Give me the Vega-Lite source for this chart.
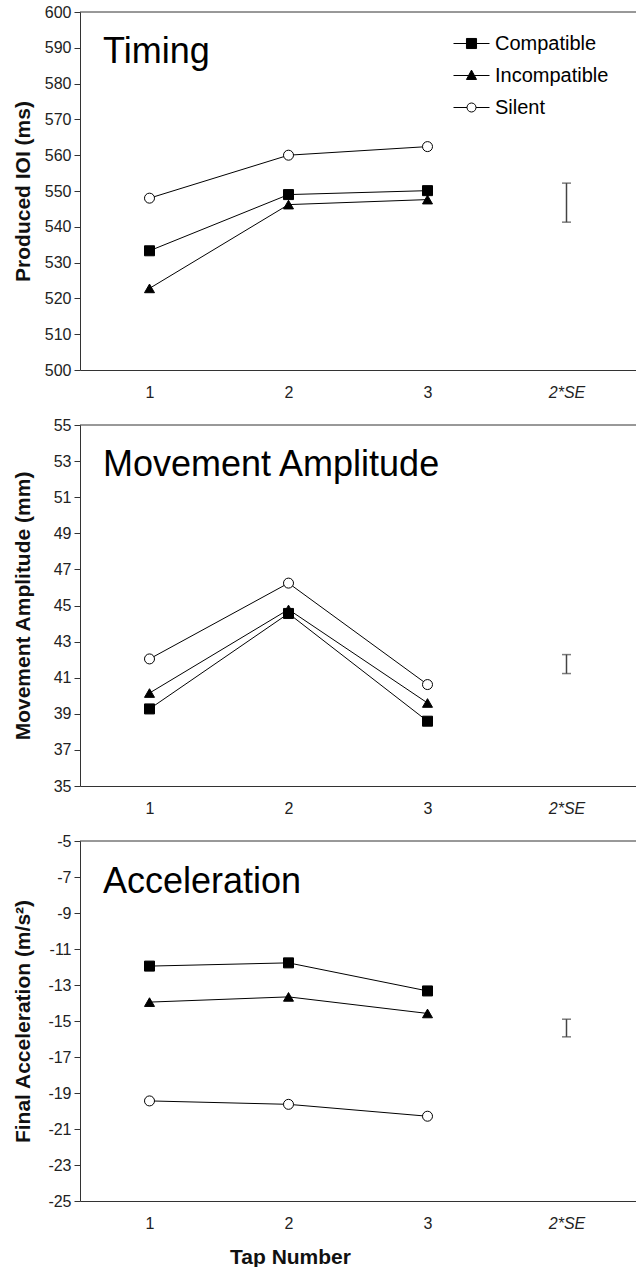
{
  "$schema": "https://vega.github.io/schema/vega-lite/v6.json",
  "padding": {"top": 4, "left": 12, "right": 0, "bottom": 0},
  "background": "white",
  "bounds": "flush",
  "spacing": 55,
  "config": {
    "font": "Liberation Sans",
    "view": {"stroke": null},
    "axis": {"labelFont": "Liberation Sans", "labelFontSize": 16, "labelColor": "#222", "labelOverlap": false, "titleFont": "Liberation Sans", "titleFontSize": 21, "titleFontWeight": "bold", "titleColor": "#111", "domainColor": "#333", "tickColor": "#333", "grid": false},
    "legend": {"labelFont": "Liberation Sans"}
  },
  "datasets": {
    "timing": [
      {"tap": "1", "condition": "Compatible", "value": 533.3},
      {"tap": "2", "condition": "Compatible", "value": 549.0},
      {"tap": "3", "condition": "Compatible", "value": 550.1},
      {"tap": "1", "condition": "Incompatible", "value": 522.8},
      {"tap": "2", "condition": "Incompatible", "value": 546.2},
      {"tap": "3", "condition": "Incompatible", "value": 547.6},
      {"tap": "1", "condition": "Silent", "value": 548.0},
      {"tap": "2", "condition": "Silent", "value": 560.0},
      {"tap": "3", "condition": "Silent", "value": 562.4}
    ],
    "amplitude": [
      {"tap": "1", "condition": "Compatible", "value": 39.27},
      {"tap": "2", "condition": "Compatible", "value": 44.56},
      {"tap": "3", "condition": "Compatible", "value": 38.59},
      {"tap": "1", "condition": "Incompatible", "value": 40.15},
      {"tap": "2", "condition": "Incompatible", "value": 44.78},
      {"tap": "3", "condition": "Incompatible", "value": 39.6},
      {"tap": "1", "condition": "Silent", "value": 42.04},
      {"tap": "2", "condition": "Silent", "value": 46.24},
      {"tap": "3", "condition": "Silent", "value": 40.62}
    ],
    "accel": [
      {"tap": "1", "condition": "Compatible", "value": -11.95},
      {"tap": "2", "condition": "Compatible", "value": -11.77},
      {"tap": "3", "condition": "Compatible", "value": -13.33},
      {"tap": "1", "condition": "Incompatible", "value": -13.95},
      {"tap": "2", "condition": "Incompatible", "value": -13.66},
      {"tap": "3", "condition": "Incompatible", "value": -14.58},
      {"tap": "1", "condition": "Silent", "value": -19.44},
      {"tap": "2", "condition": "Silent", "value": -19.63},
      {"tap": "3", "condition": "Silent", "value": -20.29}
    ],
    "se_timing": [{"tap": "2*SE", "lo": 541.3, "hi": 552.2}],
    "se_amplitude": [{"tap": "2*SE", "lo": 41.23, "hi": 42.28}],
    "se_accel": [{"tap": "2*SE", "lo": -15.88, "hi": -14.9}],
    "title_timing": [{"label": "Timing"}],
    "title_amplitude": [{"label": "Movement Amplitude"}],
    "title_accel": [{"label": "Acceleration"}]
  },
  "vconcat": [
    {
      "width": 556,
      "height": 358,
      "resolve": {"scale": {"shape": "independent", "fill": "independent", "stroke": "independent"}, "legend": {"shape": "independent", "fill": "independent", "stroke": "independent"}},
      "layer": [
        {
          "data": {"name": "title_timing"},
          "mark": {"type": "rule", "color": "#333", "strokeWidth": 1},
          "encoding": {"y": {"datum": 600, "type": "quantitative", "scale": {"domain": [500, 600], "nice": false, "zero": false}, "axis": {"title": "Produced IOI (ms)", "values": [500, 510, 520, 530, 540, 550, 560, 570, 580, 590, 600], "labelOverlap": false, "tickSize": 6, "labelPadding": 3, "titleX": -47}}}
        },
        {
          "data": {"name": "title_timing"},
          "mark": {"type": "text", "align": "left", "baseline": "alphabetic", "fontSize": 36, "font": "Liberation Sans", "dx": -46.5, "color": "black"},
          "encoding": {
            "x": {"datum": "1", "type": "ordinal", "scale": {"type": "point", "domain": ["1", "2", "3", "2*SE"], "padding": 0.5}, "axis": {"title": null, "labelPadding": 14, "ticks": false, "labelAngle": 0, "labelFontStyle": {"expr": "datum.value === '2*SE' ? 'italic' : 'normal'"}}},
            "y": {"datum": 585.7, "type": "quantitative", "axis": {"title": "Produced IOI (ms)", "values": [500, 510, 520, 530, 540, 550, 560, 570, 580, 590, 600], "labelOverlap": false, "tickSize": 6, "labelPadding": 3, "titleX": -47}},
            "text": {"field": "label"}
          }
        },
        {
          "data": {"name": "se_timing"},
          "mark": {"type": "rule", "color": "#444", "strokeWidth": 1.5},
          "encoding": {
            "x": {"field": "tap", "type": "ordinal"},
            "y": {"field": "lo", "type": "quantitative", "axis": {"title": "Produced IOI (ms)", "values": [500, 510, 520, 530, 540, 550, 560, 570, 580, 590, 600], "labelOverlap": false, "tickSize": 6, "labelPadding": 3, "titleX": -47}},
            "y2": {"field": "hi"}
          }
        },
        {
          "data": {"name": "se_timing"},
          "mark": {"type": "tick", "color": "#444", "size": 9, "thickness": 1.5},
          "encoding": {"x": {"field": "tap", "type": "ordinal"}, "y": {"field": "lo", "type": "quantitative", "axis": {"title": "Produced IOI (ms)", "values": [500, 510, 520, 530, 540, 550, 560, 570, 580, 590, 600], "labelOverlap": false, "tickSize": 6, "labelPadding": 3, "titleX": -47}}}
        },
        {
          "data": {"name": "se_timing"},
          "mark": {"type": "tick", "color": "#444", "size": 9, "thickness": 1.5},
          "encoding": {"x": {"field": "tap", "type": "ordinal"}, "y": {"field": "hi", "type": "quantitative", "axis": {"title": "Produced IOI (ms)", "values": [500, 510, 520, 530, 540, 550, 560, 570, 580, 590, 600], "labelOverlap": false, "tickSize": 6, "labelPadding": 3, "titleX": -47}}}
        },
        {
          "data": {"name": "timing"},
          "mark": {"type": "line", "color": "black", "strokeWidth": 1},
          "encoding": {
            "x": {"field": "tap", "type": "ordinal"},
            "y": {"field": "value", "type": "quantitative", "axis": {"title": "Produced IOI (ms)", "values": [500, 510, 520, 530, 540, 550, 560, 570, 580, 590, 600], "labelOverlap": false, "tickSize": 6, "labelPadding": 3, "titleX": -47}},
            "detail": {"field": "condition"}
          }
        },
        {
          "data": {"name": "timing"},
          "mark": {"type": "point", "filled": true, "stroke": "black", "strokeWidth": 1, "opacity": 1, "size": 100},
          "encoding": {
            "x": {"field": "tap", "type": "ordinal"},
            "y": {"field": "value", "type": "quantitative", "axis": {"title": "Produced IOI (ms)", "values": [500, 510, 520, 530, 540, 550, 560, 570, 580, 590, 600], "labelOverlap": false, "tickSize": 6, "labelPadding": 3, "titleX": -47}},
            "shape": {"field": "condition", "scale": {"domain": ["Compatible", "Incompatible", "Silent"], "range": ["square", "triangle-up", "circle"]}, "legend": null},
            "fill": {"field": "condition", "scale": {"domain": ["Compatible", "Incompatible", "Silent"], "range": ["black", "black", "white"]}, "legend": null}
          }
        },
        {
          "data": {"name": "timing"},
          "transform": [{"filter": "false"}],
          "mark": {"type": "point", "filled": true, "strokeWidth": 1, "opacity": 1},
          "encoding": {
            "x": {"field": "tap", "type": "ordinal"},
            "y": {"field": "value", "type": "quantitative", "axis": {"title": "Produced IOI (ms)", "values": [500, 510, 520, 530, 540, 550, 560, 570, 580, 590, 600], "labelOverlap": false, "tickSize": 6, "labelPadding": 3, "titleX": -47}},
            "shape": {"field": "condition", "scale": {"domain": ["Compatible", "Incompatible", "Silent"], "range": ["M-1,0H1M-0.28,-0.28H0.28V0.28H-0.28Z", "M-1,0H1M0,-0.3L0.28,0.22H-0.28Z", "M-1,0H-0.25M0.25,0H1M-0.25,0A0.25,0.25 0 1,0 0.25,0A0.25,0.25 0 1,0 -0.25,0Z"]},
              "legend": {"title": null, "orient": "none", "legendX": 373, "legendY": 13, "labelFontSize": 20, "labelColor": "black", "symbolSize": 1296, "symbolStrokeWidth": 1, "labelOffset": 5, "rowPadding": 3, "padding": 0}},
            "fill": {"field": "condition", "scale": {"domain": ["Compatible", "Incompatible", "Silent"], "range": ["black", "black", "white"]},
              "legend": {"title": null, "orient": "none", "legendX": 373, "legendY": 13, "labelFontSize": 20, "labelColor": "black", "symbolSize": 1296, "symbolStrokeWidth": 1, "labelOffset": 5, "rowPadding": 3, "padding": 0}},
            "stroke": {"field": "condition", "scale": {"domain": ["Compatible", "Incompatible", "Silent"], "range": ["black", "black", "black"]},
              "legend": {"title": null, "orient": "none", "legendX": 373, "legendY": 13, "labelFontSize": 20, "labelColor": "black", "symbolSize": 1296, "symbolStrokeWidth": 1, "labelOffset": 5, "rowPadding": 3, "padding": 0}}
          }
        }
      ]
    },
    {
      "width": 556,
      "height": 361,
      "layer": [
        {
          "data": {"name": "title_amplitude"},
          "mark": {"type": "rule", "color": "#333", "strokeWidth": 1},
          "encoding": {"y": {"datum": 55, "type": "quantitative", "scale": {"domain": [35, 55], "nice": false, "zero": false}, "axis": {"title": "Movement Amplitude (mm)", "values": [35, 37, 39, 41, 43, 45, 47, 49, 51, 53, 55], "labelOverlap": false, "tickSize": 6, "labelPadding": 3, "titleX": -47}}}
        },
        {
          "data": {"name": "title_amplitude"},
          "mark": {"type": "text", "align": "left", "baseline": "alphabetic", "fontSize": 36, "font": "Liberation Sans", "dx": -46.5, "color": "black"},
          "encoding": {
            "x": {"datum": "1", "type": "ordinal", "scale": {"type": "point", "domain": ["1", "2", "3", "2*SE"], "padding": 0.5}, "axis": {"title": null, "labelPadding": 14, "ticks": false, "labelAngle": 0, "labelFontStyle": {"expr": "datum.value === '2*SE' ? 'italic' : 'normal'"}}},
            "y": {"datum": 52.19, "type": "quantitative", "axis": {"title": "Movement Amplitude (mm)", "values": [35, 37, 39, 41, 43, 45, 47, 49, 51, 53, 55], "labelOverlap": false, "tickSize": 6, "labelPadding": 3, "titleX": -47}},
            "text": {"field": "label"}
          }
        },
        {
          "data": {"name": "se_amplitude"},
          "mark": {"type": "rule", "color": "#444", "strokeWidth": 1.5},
          "encoding": {"x": {"field": "tap", "type": "ordinal"}, "y": {"field": "lo", "type": "quantitative", "axis": {"title": "Movement Amplitude (mm)", "values": [35, 37, 39, 41, 43, 45, 47, 49, 51, 53, 55], "labelOverlap": false, "tickSize": 6, "labelPadding": 3, "titleX": -47}}, "y2": {"field": "hi"}}
        },
        {
          "data": {"name": "se_amplitude"},
          "mark": {"type": "tick", "color": "#444", "size": 9, "thickness": 1.5},
          "encoding": {"x": {"field": "tap", "type": "ordinal"}, "y": {"field": "lo", "type": "quantitative", "axis": {"title": "Movement Amplitude (mm)", "values": [35, 37, 39, 41, 43, 45, 47, 49, 51, 53, 55], "labelOverlap": false, "tickSize": 6, "labelPadding": 3, "titleX": -47}}}
        },
        {
          "data": {"name": "se_amplitude"},
          "mark": {"type": "tick", "color": "#444", "size": 9, "thickness": 1.5},
          "encoding": {"x": {"field": "tap", "type": "ordinal"}, "y": {"field": "hi", "type": "quantitative", "axis": {"title": "Movement Amplitude (mm)", "values": [35, 37, 39, 41, 43, 45, 47, 49, 51, 53, 55], "labelOverlap": false, "tickSize": 6, "labelPadding": 3, "titleX": -47}}}
        },
        {
          "data": {"name": "amplitude"},
          "mark": {"type": "line", "color": "black", "strokeWidth": 1},
          "encoding": {"x": {"field": "tap", "type": "ordinal"}, "y": {"field": "value", "type": "quantitative", "axis": {"title": "Movement Amplitude (mm)", "values": [35, 37, 39, 41, 43, 45, 47, 49, 51, 53, 55], "labelOverlap": false, "tickSize": 6, "labelPadding": 3, "titleX": -47}}, "detail": {"field": "condition"}}
        },
        {
          "data": {"name": "amplitude"},
          "mark": {"type": "point", "filled": true, "stroke": "black", "strokeWidth": 1, "opacity": 1, "size": 100},
          "encoding": {
            "x": {"field": "tap", "type": "ordinal"},
            "y": {"field": "value", "type": "quantitative", "axis": {"title": "Movement Amplitude (mm)", "values": [35, 37, 39, 41, 43, 45, 47, 49, 51, 53, 55], "labelOverlap": false, "tickSize": 6, "labelPadding": 3, "titleX": -47}},
            "shape": {"field": "condition", "scale": {"domain": ["Compatible", "Incompatible", "Silent"], "range": ["square", "triangle-up", "circle"]}, "legend": null},
            "fill": {"field": "condition", "scale": {"domain": ["Compatible", "Incompatible", "Silent"], "range": ["black", "black", "white"]}, "legend": null}
          }
        }
      ]
    },
    {
      "width": 556,
      "height": 360,
      "layer": [
        {
          "data": {"name": "title_accel"},
          "mark": {"type": "rule", "color": "#333", "strokeWidth": 1},
          "encoding": {"y": {"datum": -5, "type": "quantitative", "scale": {"domain": [-25, -5], "nice": false, "zero": false}, "axis": {"title": "Final Acceleration (m/s²)", "values": [-25, -23, -21, -19, -17, -15, -13, -11, -9, -7, -5], "labelOverlap": false, "format": "d", "labelExpr": "replace(datum.label, '−', '-')", "tickSize": 6, "labelPadding": 3, "titleX": -47}}}
        },
        {
          "data": {"name": "title_accel"},
          "mark": {"type": "text", "align": "left", "baseline": "alphabetic", "fontSize": 36, "font": "Liberation Sans", "dx": -46.5, "color": "black"},
          "encoding": {
            "x": {"datum": "1", "type": "ordinal", "scale": {"type": "point", "domain": ["1", "2", "3", "2*SE"], "padding": 0.5}, "axis": {"title": "Tap Number", "titleX": 210, "titleY": 45, "labelPadding": 14, "ticks": false, "labelAngle": 0, "labelFontStyle": {"expr": "datum.value === '2*SE' ? 'italic' : 'normal'"}}},
            "y": {"datum": -7.87, "type": "quantitative", "axis": {"title": "Final Acceleration (m/s²)", "values": [-25, -23, -21, -19, -17, -15, -13, -11, -9, -7, -5], "labelOverlap": false, "format": "d", "labelExpr": "replace(datum.label, '−', '-')", "tickSize": 6, "labelPadding": 3, "titleX": -47}},
            "text": {"field": "label"}
          }
        },
        {
          "data": {"name": "se_accel"},
          "mark": {"type": "rule", "color": "#444", "strokeWidth": 1.5},
          "encoding": {"x": {"field": "tap", "type": "ordinal"}, "y": {"field": "lo", "type": "quantitative", "axis": {"title": "Final Acceleration (m/s²)", "values": [-25, -23, -21, -19, -17, -15, -13, -11, -9, -7, -5], "labelOverlap": false, "format": "d", "labelExpr": "replace(datum.label, '−', '-')", "tickSize": 6, "labelPadding": 3, "titleX": -47}}, "y2": {"field": "hi"}}
        },
        {
          "data": {"name": "se_accel"},
          "mark": {"type": "tick", "color": "#444", "size": 9, "thickness": 1.5},
          "encoding": {"x": {"field": "tap", "type": "ordinal"}, "y": {"field": "lo", "type": "quantitative", "axis": {"title": "Final Acceleration (m/s²)", "values": [-25, -23, -21, -19, -17, -15, -13, -11, -9, -7, -5], "labelOverlap": false, "format": "d", "labelExpr": "replace(datum.label, '−', '-')", "tickSize": 6, "labelPadding": 3, "titleX": -47}}}
        },
        {
          "data": {"name": "se_accel"},
          "mark": {"type": "tick", "color": "#444", "size": 9, "thickness": 1.5},
          "encoding": {"x": {"field": "tap", "type": "ordinal"}, "y": {"field": "hi", "type": "quantitative", "axis": {"title": "Final Acceleration (m/s²)", "values": [-25, -23, -21, -19, -17, -15, -13, -11, -9, -7, -5], "labelOverlap": false, "format": "d", "labelExpr": "replace(datum.label, '−', '-')", "tickSize": 6, "labelPadding": 3, "titleX": -47}}}
        },
        {
          "data": {"name": "accel"},
          "mark": {"type": "line", "color": "black", "strokeWidth": 1},
          "encoding": {"x": {"field": "tap", "type": "ordinal"}, "y": {"field": "value", "type": "quantitative", "axis": {"title": "Final Acceleration (m/s²)", "values": [-25, -23, -21, -19, -17, -15, -13, -11, -9, -7, -5], "labelOverlap": false, "format": "d", "labelExpr": "replace(datum.label, '−', '-')", "tickSize": 6, "labelPadding": 3, "titleX": -47}}, "detail": {"field": "condition"}}
        },
        {
          "data": {"name": "accel"},
          "mark": {"type": "point", "filled": true, "stroke": "black", "strokeWidth": 1, "opacity": 1, "size": 100},
          "encoding": {
            "x": {"field": "tap", "type": "ordinal"},
            "y": {"field": "value", "type": "quantitative", "axis": {"title": "Final Acceleration (m/s²)", "values": [-25, -23, -21, -19, -17, -15, -13, -11, -9, -7, -5], "labelOverlap": false, "format": "d", "labelExpr": "replace(datum.label, '−', '-')", "tickSize": 6, "labelPadding": 3, "titleX": -47}},
            "shape": {"field": "condition", "scale": {"domain": ["Compatible", "Incompatible", "Silent"], "range": ["square", "triangle-up", "circle"]}, "legend": null},
            "fill": {"field": "condition", "scale": {"domain": ["Compatible", "Incompatible", "Silent"], "range": ["black", "black", "white"]}, "legend": null}
          }
        }
      ]
    }
  ]
}
